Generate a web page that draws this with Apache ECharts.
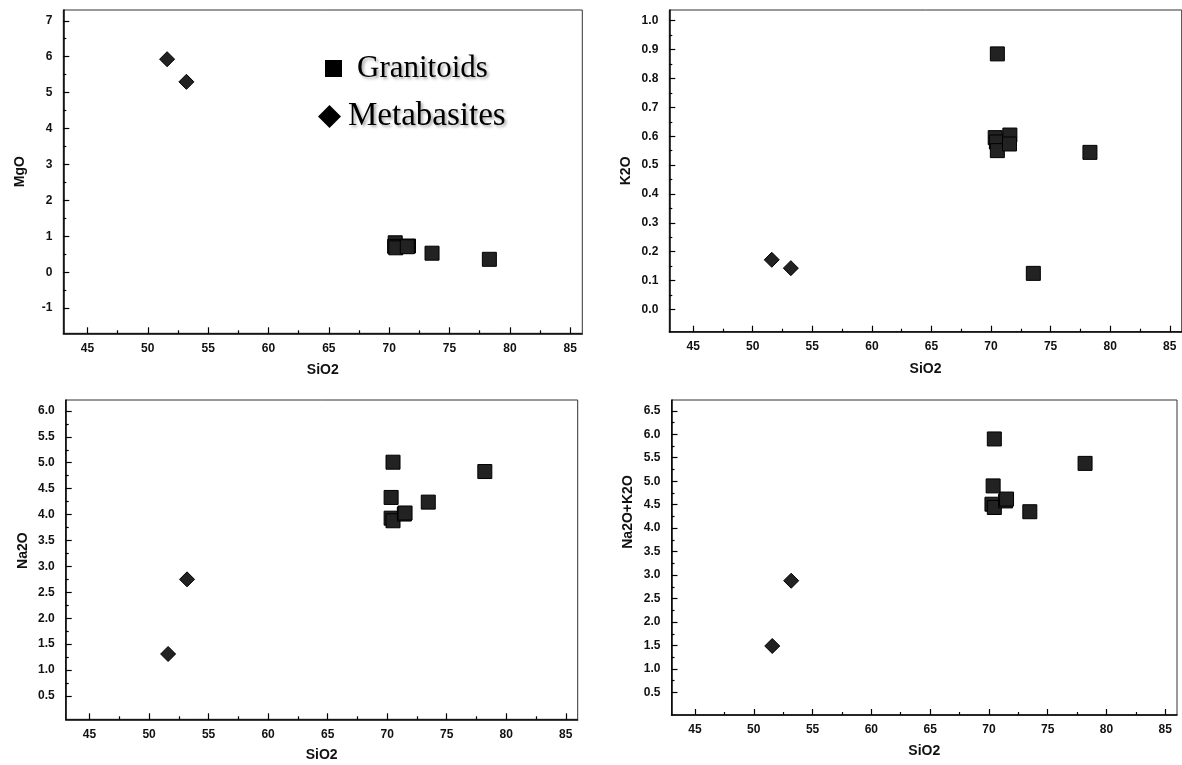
<!DOCTYPE html>
<html><head><meta charset="utf-8">
<script src="https://cdn.jsdelivr.net/npm/echarts@6/dist/echarts.min.js"></script>
<style>html,body{margin:0;padding:0;background:#fff}#c{width:1182px;height:765px}</style>
</head><body><div id="c"></div>
<script>
// ---- tick labels ----
const sio2Ticks = [45, 50, 55, 60, 65, 70, 75, 80, 85];
const mgoTicks = [-1, 0, 1, 2, 3, 4, 5, 6, 7];
const k2oTicks = [0.0, 0.1, 0.2, 0.3, 0.4, 0.5, 0.6, 0.7, 0.8, 0.9, 1.0];
const na2oTicks = [0.5, 1.0, 1.5, 2.0, 2.5, 3.0, 3.5, 4.0, 4.5, 5.0, 5.5, 6.0];
const alkTicks = [0.5, 1.0, 1.5, 2.0, 2.5, 3.0, 3.5, 4.0, 4.5, 5.0, 5.5, 6.0, 6.5];

// ---- series values: [SiO2, oxide] ----
const granMgO = [[70.5, 0.82], [70.45, 0.72], [70.55, 0.68], [71.6, 0.73], [71.5, 0.71], [73.55, 0.53], [78.3, 0.36]];
const metaMgO = [[51.6, 5.93], [53.2, 5.30]];
const granK2O = [[70.53, 0.885], [70.35, 0.595], [70.45, 0.58], [70.53, 0.55], [71.58, 0.604], [71.55, 0.573], [73.55, 0.125], [78.3, 0.544]];
const metaK2O = [[51.6, 0.172], [53.2, 0.143]];
const granNa2O = [[70.49, 5.01], [70.33, 4.33], [70.33, 3.93], [70.49, 3.88], [71.44, 4.01], [71.5, 4.03], [73.45, 4.24], [78.2, 4.83]];
const metaNa2O = [[51.6, 1.31], [53.19, 2.75]];
const granAlk = [[70.46, 5.90], [70.36, 4.90], [70.26, 4.51], [70.46, 4.44], [71.42, 4.58], [71.5, 4.62], [73.48, 4.35], [78.18, 5.38]];
const metaAlk = [[51.57, 1.49], [53.18, 2.88]];

const FONT = 'Liberation Sans, Arial, sans-serif';
const mid = arr => arr.slice(1).map((v, i) => (v + arr[i]) / 2);

const panels = [
  { grid: { left: 63.3, top: 10, width: 519, height: 323.3 }, ymin: -1.7, ymax: 7.3, name: 'MgO', ticks: mgoTicks, dec: 0, gran: granMgO, meta: metaMgO, xGap: 30, yPad: 0 },
  { grid: { left: 669.3, top: 10, width: 512.4, height: 321.7 }, ymin: -0.077, ymax: 1.037, name: 'K2O', ticks: k2oTicks, dec: 1, gran: granK2O, meta: metaK2O, xGap: 30, yPad: 0 },
  { grid: { left: 65.7, top: 400, width: 512, height: 319.3 }, ymin: 0.05, ymax: 6.21, name: 'Na2O', ticks: na2oTicks, dec: 1, gran: granNa2O, meta: metaNa2O, xGap: 29, yPad: 18 },
  { grid: { left: 671.5, top: 400, width: 505.5, height: 315 }, ymin: 0.02, ymax: 6.73, name: 'Na2O+K2O', ticks: alkTicks, dec: 1, gran: granAlk, meta: metaAlk, xGap: 29, yPad: 91 }
];

const tickLine = { color: '#000', width: 1.2 };
const labelStyle = { fontFamily: FONT, fontSize: 12, fontWeight: 'bold', color: '#111' };
const nameStyle = { fontFamily: FONT, fontSize: 14, fontWeight: 'bold', color: '#111' };

const grid = [], xAxis = [], yAxis = [], series = [];
panels.forEach((p, i) => {
  grid.push(Object.assign({ show: true, borderColor: '#333', borderWidth: 1, backgroundColor: 'transparent', containLabel: false }, p.grid));
  xAxis.push({
    gridIndex: i, type: 'value', min: 43, max: 86, position: 'bottom',
    name: 'SiO2', nameLocation: 'middle', nameGap: p.xGap, nameTextStyle: nameStyle,
    axisLine: { show: true, onZero: false, lineStyle: { color: '#000', width: 1.5 } },
    axisTick: { show: true, inside: true, length: 6, customValues: sio2Ticks, lineStyle: tickLine },
    axisLabel: Object.assign({ customValues: sio2Ticks, margin: 9 }, labelStyle),
    splitLine: { show: false }
  });
  xAxis.push({
    gridIndex: i, type: 'value', min: 43, max: 86, position: 'bottom',
    axisLine: { show: false, onZero: false },
    axisTick: { show: true, inside: true, length: 3, customValues: mid(sio2Ticks), lineStyle: tickLine },
    axisLabel: { show: false }, splitLine: { show: false }
  });
  yAxis.push({
    gridIndex: i, type: 'value', min: p.ymin, max: p.ymax, position: 'left',
    name: p.name, nameLocation: 'middle', nameGap: 36,
    nameTextStyle: Object.assign({ padding: [0, 0, 0, p.yPad] }, nameStyle),
    axisLine: { show: true, onZero: false, lineStyle: { color: '#000', width: 1.5 } },
    axisTick: { show: true, inside: true, length: 6, customValues: p.ticks, lineStyle: tickLine },
    axisLabel: Object.assign({ customValues: p.ticks, margin: 11, formatter: v => Number(v).toFixed(p.dec) }, labelStyle),
    splitLine: { show: false }
  });
  yAxis.push({
    gridIndex: i, type: 'value', min: p.ymin, max: p.ymax, position: 'left',
    axisLine: { show: false, onZero: false },
    axisTick: { show: true, inside: true, length: 3, customValues: mid(p.ticks), lineStyle: tickLine },
    axisLabel: { show: false }, splitLine: { show: false }
  });
  series.push({
    name: 'Granitoids', type: 'scatter', xAxisIndex: 2 * i, yAxisIndex: 2 * i,
    symbol: 'rect', symbolSize: 14, data: p.gran,
    itemStyle: { color: '#222', borderColor: '#000', borderWidth: 1, opacity: 1 }
  });
  series.push({
    name: 'Metabasites', type: 'scatter', xAxisIndex: 2 * i, yAxisIndex: 2 * i,
    symbol: 'diamond', symbolSize: 15, data: p.meta,
    itemStyle: { color: '#222', borderColor: '#000', borderWidth: 1, opacity: 1 }
  });
});

const legendText = (size, padB, padL) => ({
  fontFamily: 'Liberation Serif, Times New Roman, serif', fontSize: size, color: '#000',
  padding: [0, 0, padB, padL],
  textShadowColor: 'rgba(0,0,0,0.35)', textShadowBlur: 3, textShadowOffsetX: 2, textShadowOffsetY: 2
});

const chart = echarts.init(document.getElementById('c'), null, { renderer: 'canvas' });
chart.setOption({
  backgroundColor: '#fff',
  animation: false,
  grid, xAxis, yAxis, series,
  legend: [
    { data: ['Granitoids'], left: 320, top: 48, itemWidth: 17, itemHeight: 17, icon: 'rect', selectedMode: false,
      itemStyle: { color: '#000', borderWidth: 0 }, textStyle: legendText(31, 5, 10) },
    { data: ['Metabasites'], left: 313, top: 95, itemWidth: 23, itemHeight: 23, icon: 'diamond', selectedMode: false,
      itemStyle: { color: '#000', borderWidth: 0 }, textStyle: legendText(33, 16, 2) }
  ]
});
</script></body></html>
